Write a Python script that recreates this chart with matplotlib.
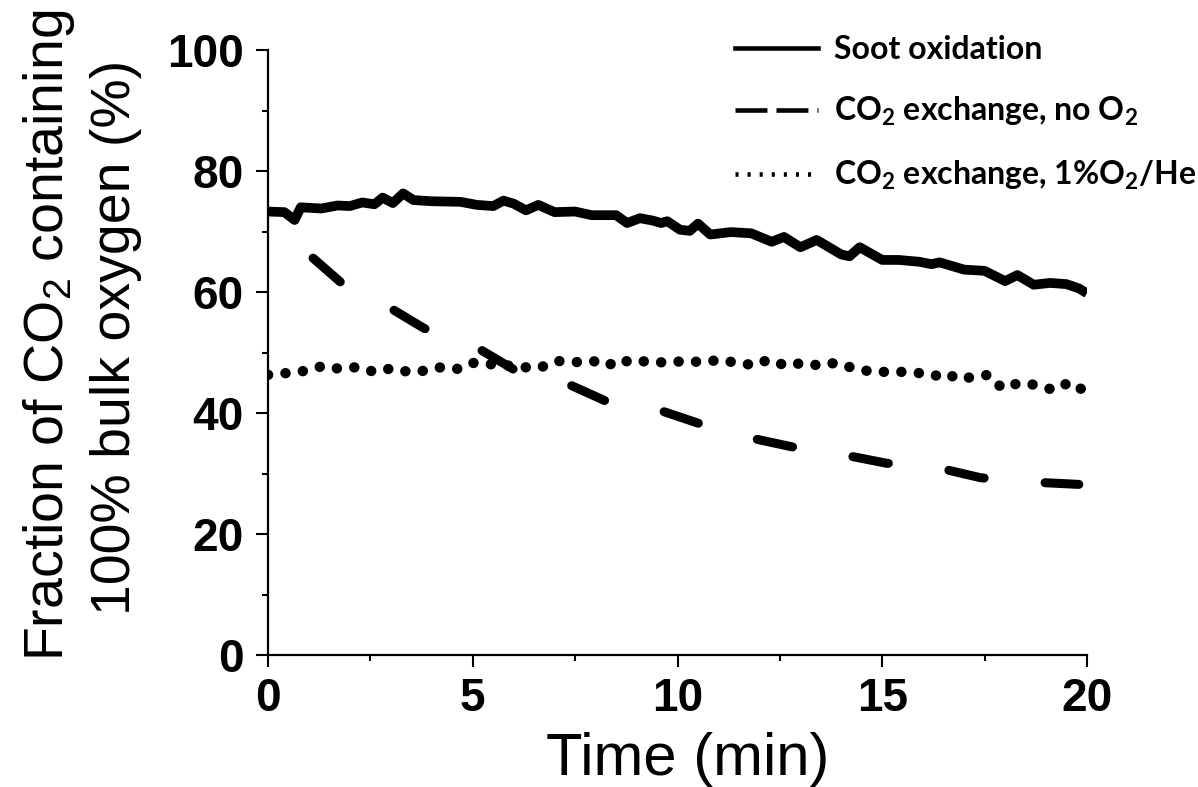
import numpy as np
import matplotlib
matplotlib.use("Agg")
import matplotlib.pyplot as plt
from matplotlib.lines import Line2D

plt.rcParams['mathtext.default'] = 'regular'
plt.rcParams['lines.scale_dashes'] = False

soot_t = [0.0, 0.4, 0.65, 0.8, 1.3, 1.7, 2.0, 2.3, 2.6, 2.8, 3.05, 3.3, 3.55, 4.0,
          4.7, 5.1, 5.5, 5.75, 6.0, 6.3, 6.6, 7.0, 7.5, 7.9, 8.5, 8.77, 9.08, 9.4,
          9.6, 9.75, 10.06, 10.3, 10.5, 10.8, 11.3, 11.8, 12.3, 12.6, 13.0, 13.4,
          14.0, 14.2, 14.45, 15.0, 15.4, 15.9, 16.2, 16.4, 17.0, 17.5, 18.0, 18.3,
          18.7, 19.1, 19.5, 19.8, 20.0]
soot_y = [73.3, 73.2, 71.9, 74.0, 73.8, 74.3, 74.2, 74.8, 74.5, 75.6, 74.7, 76.3, 75.2, 75.0,
          74.9, 74.4, 74.2, 75.1, 74.6, 73.5, 74.4, 73.2, 73.3, 72.7, 72.7, 71.4, 72.2, 71.8,
          71.4, 71.7, 70.3, 70.1, 71.3, 69.5, 69.9, 69.7, 68.3, 69.1, 67.4, 68.6,
          66.2, 65.9, 67.4, 65.3, 65.3, 65.0, 64.6, 64.9, 63.7, 63.5, 61.8, 62.8,
          61.2, 61.5, 61.3, 60.6, 59.8]

noo2_t = [1.1, 1.93, 2.95, 3.81, 5.13, 6.1, 7.42, 8.47, 9.5, 10.6, 11.7, 12.8,
          13.9, 15.1, 16.2, 17.4, 18.6, 19.8]
noo2_y = [65.6, 60.7, 57.5, 54.0, 50.7, 46.8, 44.5, 41.3, 40.6, 38.1, 36.0, 34.4,
          33.3, 31.7, 31.2, 29.3, 28.6, 28.2]

o2he_t = [0.0, 0.46, 0.95, 1.35, 1.74, 2.2, 2.59, 3.03, 3.42, 3.86, 4.25, 4.62, 4.96,
          5.35, 5.78, 6.2, 6.6, 7.06, 7.5, 7.94, 8.28, 8.62, 8.86, 9.26, 9.72, 10.18,
          10.62, 11.04, 11.43, 11.89, 12.21, 12.67, 13.06, 13.5, 13.85, 14.3, 14.76,
          15.1, 15.5, 15.9, 16.25, 16.58, 16.83, 17.17, 17.58, 17.93, 18.36, 18.78,
          19.19, 19.58, 19.9]
o2he_y = [46.3, 46.6, 47.0, 47.8, 47.3, 47.6, 46.8, 47.4, 46.8, 47.0, 47.6, 47.3, 48.3,
          48.1, 47.9, 47.6, 47.4, 48.6, 48.4, 48.6, 47.8, 48.9, 48.3, 48.6, 48.3, 48.6,
          48.4, 48.8, 48.3, 47.9, 48.8, 47.8, 48.3, 47.8, 48.3, 47.4, 46.8,
          46.8, 46.8, 46.6, 46.1, 46.6, 45.6, 45.9, 46.3, 44.1, 45.0, 44.6,
          43.8, 45.1, 43.8]

labels = ['Soot oxidation', 'CO$_2$ exchange, no O$_2$', 'CO$_2$ exchange, 1%O$_2$/He']

fig = plt.figure(figsize=(11.98, 7.87), dpi=100)
ax = fig.add_axes([268 / 1198, 1 - 655 / 787, (1087 - 268) / 1198, (655 - 50) / 787])

ax.plot(soot_t, soot_y, color='black', lw=7, solid_joinstyle='round',
        solid_capstyle='butt')
l2, = ax.plot(noo2_t, noo2_y, color='black', lw=6.5, dash_capstyle='round')
l2.set_dashes((26, 44))
l3, = ax.plot(o2he_t, o2he_y, color='black', lw=7.5, dash_capstyle='round')
l3.set_dashes((0.1, 12.5))

ax.set_xlim(0, 20)
ax.set_ylim(0, 100)
ax.set_xticks([0, 5, 10, 15, 20])
ax.set_xticks(np.arange(0, 20.1, 2.5), minor=True)
ax.set_yticks([0, 20, 40, 60, 80, 100])
ax.set_yticks(np.arange(0, 101, 10), minor=True)
for s in ['top', 'right']:
    ax.spines[s].set_visible(False)
for s in ['left', 'bottom']:
    ax.spines[s].set_linewidth(1.6)
ax.tick_params(which='major', direction='out', length=8.5, width=1.5)
ax.tick_params(which='minor', direction='out', length=4.3, width=1.5)
ax.tick_params(axis='x', which='major', pad=7)
ax.tick_params(axis='y', which='major', pad=9)
for t in ax.get_xticklabels() + ax.get_yticklabels():
    t.set_fontfamily('Liberation Sans')
    t.set_fontweight('bold')
    t.set_fontsize(33)

fig.text(688 / 1198, 1 - 775 / 787, 'Time (min)', family='Liberation Sans',
         fontsize=43, ha='center', va='baseline')
# y label as two lines, placed by their baselines
fig.text(63 / 1198, 1 - 335 / 787, 'Fraction of CO$_2$ containing',
         family='Liberation Sans', fontsize=40, rotation=90, rotation_mode='anchor',
         ha='center', va='baseline')
fig.text(130 / 1198, 1 - 337 / 787, '100% bulk oxygen (%)',
         family='Liberation Sans', fontsize=40, rotation=90, rotation_mode='anchor',
         ha='center', va='baseline')

# legend handles are drawn thinner than the data lines, as in the original
h1 = Line2D([], [], color='black', lw=3.3)
h2 = Line2D([], [], color='black', lw=3.3, dash_capstyle='butt')
h2.set_dashes((23, 6.5))
h3 = Line2D([], [], color='black', lw=3.3, dash_capstyle='butt')
h3.set_dashes((2.2, 6.5))
ax.legend([h1, h2, h3], labels, loc='upper left',
          bbox_to_anchor=(735 / 1198, 1 - 35 / 787), bbox_transform=fig.transFigure,
          frameon=False, borderpad=0, borderaxespad=0, handlelength=2.6,
          handletextpad=0.5, labelspacing=0.97,
          prop={'family': 'Lato', 'weight': 'bold', 'size': 23})

fig.savefig('out.png', dpi=100)
